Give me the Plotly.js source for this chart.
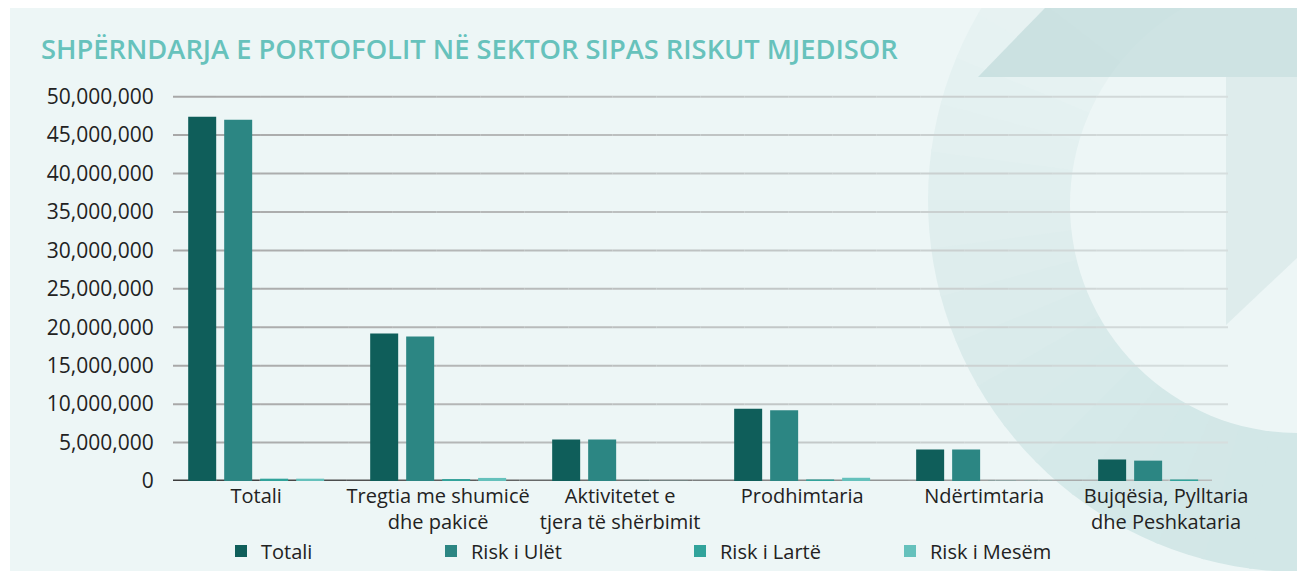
<!DOCTYPE html>
<html>
<head>
<meta charset="utf-8">
<script src="https://cdn.plot.ly/plotly-3.0.1.min.js"></script>
<style>html,body{margin:0;padding:0;background:#fff;overflow:hidden;}#chart{width:1297px;height:571px;}</style>
</head>
<body>
<div id="chart"></div>
<script>
// ---- data ----
var categories = [
  "Totali",
  "Tregtia me shumicë<br>dhe pakicë",
  "Aktivitetet e<br>tjera të shërbimit",
  "Prodhimtaria",
  "Ndërtimtaria",
  "Bujqësia, Pylltaria<br>dhe Peshkataria"
];
var seriesNames = ["Totali", "Risk i Ulët", "Risk i Lartë", "Risk i Mesëm"];
var totali     = [47400000, 19200000, 5400000, 9400000, 4100000, 2800000];
var riskUlet   = [47000000, 18800000, 5400000, 9200000, 4100000, 2650000];
var riskLarte  = [300000, 250000, 20000, 200000, 20000, 200000];
var riskMesem  = [300000, 400000, 20000, 420000, 20000, 0];
var yTicks     = [0, 5000000, 10000000, 15000000, 20000000, 25000000, 30000000, 35000000, 40000000, 45000000, 50000000];
var titleText = "SHPËRNDARJA E PORTOFOLIT NË SEKTOR SIPAS RISKUT MJEDISOR";

// ---- geometry helpers (background decoration only) ----
var W = 1297, H = 571;
var L = 173, R = 1228, T = 89, B = 481;
function px(x){ return (x - L) / (R - L); }
function py(y){ return (B - y) / (B - T); }
function circle(cx, cy, r, color){
  return {type:'circle', xref:'paper', yref:'paper', layer:'below',
    x0:px(cx-r), x1:px(cx+r), y0:py(cy+r), y1:py(cy-r),
    fillcolor:color, line:{width:0}};
}
function rect(x0,y0,x1,y1,color){
  return {type:'rect', xref:'paper', yref:'paper', layer:'below',
    x0:px(x0), x1:px(x1), y0:py(y1), y1:py(y0), fillcolor:color, line:{width:0}};
}
function poly(pts, color){
  var d = pts.map(function(p,i){ return (i? 'L':'M') + px(p[0]) + ',' + py(p[1]); }).join('') + 'Z';
  return {type:'path', xref:'paper', yref:'paper', layer:'below', path:d, fillcolor:color, line:{width:0}};
}
function mixArr(a, b, t){ return a.map(function(v,i){ return Math.round(v + (b[i]-v)*t); }); }
function mix(a, b, t){ return 'rgb(' + mixArr(a,b,t).join(',') + ')'; }

var bg = '#edf6f6';
var shapes = [ rect(10, 8, W, H, bg) ];
// shaded ring: wedges of the outer circle, darker toward bottom-right
(function(){
  var cx = 1300, cy = 200, r = 372, n = 48;
  var faint = [234,244,244], dark = [210,231,231];
  for (var k = 0; k < n; k++){
    var a0 = k/n*2*Math.PI, a1 = (k+1.05)/n*2*Math.PI, am = (a0+a1)/2;
    var d = 0.5 + 0.5*Math.cos(am - 95*Math.PI/180);
    d = Math.pow(d, 1.5);
    var pts = [[cx,cy]];
    for (var s = 0; s <= 3; s++){
      var a = a0 + (a1-a0)*s/3;
      pts.push([cx + r*Math.cos(a), cy + r*Math.sin(a)]);
    }
    shapes.push(poly(pts, mix(faint, dark, d)));
  }
})();
shapes.push(circle(1298, 205, 228, '#edf6f6'));
shapes.push(poly([[1045,8],[W,8],[W,77],[978,77]], 'rgba(180,212,212,0.55)'));
shapes.push(poly([[1226,77],[W,77],[W,258],[1226,325]], 'rgba(205,225,225,0.45)'));
shapes.push(rect(0, 0, W, 8, '#ffffff'));
shapes.push(rect(0, 0, 10, H, '#ffffff'));

// gridlines and baseline drawn as fading segments at the axis tick values
function fadingLine(yv, c0, c1, width, x1){
  var n = 24;
  for (var k = 0; k < n; k++){
    shapes.push({type:'line', xref:'paper', yref:'y', layer:'below',
      x0:k/n*x1, x1:(k+1)/n*x1, y0:yv, y1:yv,
      line:{color:mix(c0, c1, k/(n-1)), width:width}});
  }
}
yTicks.forEach(function(v){
  if (v === 0) return;
  fadingLine(v, [168,168,168], [214,222,222], 2, 1);
});
fadingLine(0, [60,60,60], [185,188,188], 3, (1212 - L)/(R - L));

var colors = ['#0f5e5a', '#2c8683', '#31a39b', '#65c1bc'];
var values = [totali, riskUlet, riskLarte, riskMesem];
var legendIds = ['legend', 'legend2', 'legend3', 'legend4'];
var traces = values.map(function(v, i){
  return {type:'bar', name:seriesNames[i], x:categories, y:v,
    marker:{color:colors[i]}, legend:legendIds[i], hoverinfo:'x+y'};
});

var font = '"Open Sans", Lato, sans-serif';
var legendX = [243, 453, 702, 912];
var layout = {
  width:W, height:H,
  margin:{l:L, r:W-R, t:T, b:H-B, pad:0, autoexpand:false},
  paper_bgcolor:'#ffffff', plot_bgcolor:'rgba(0,0,0,0)',
  font:{family:font, size:20, color:'#222222'},
  title:{text:titleText, x:41/W, xref:'container', xanchor:'left',
    y:1-49/H, yref:'container', yanchor:'middle',
    font:{family:font, size:27.3, color:'#67c2bc', weight:600}},
  barmode:'group', bargap:0.209, bargroupgap:0.222,
  xaxis:{type:'category', range:[-0.457, 5.340], showgrid:false, zeroline:false,
    showline:false, ticks:'', ticklen:0, ticklabelstandoff:1,
    tickfont:{family:font, size:20, color:'#222222'}, automargin:false, fixedrange:true},
  yaxis:{range:[0, 51000000], tickmode:'array', tickvals:yTicks, tickformat:',d',
    showgrid:false, zeroline:false,
    showline:false, ticks:'outside', ticklen:14, tickcolor:'rgba(0,0,0,0)',
    tickfont:{family:font, size:21, color:'#222222'}, automargin:false, fixedrange:true},
  shapes:shapes,
  showlegend:true
};
legendIds.forEach(function(id, i){
  layout[id] = {x:px(legendX[i] - 22), xref:'paper', xanchor:'left',
    y:py(551), yref:'paper', yanchor:'middle', orientation:'h',
    bgcolor:'rgba(0,0,0,0)', borderwidth:0,
    font:{family:font, size:20, color:'#222222'}};
});

Plotly.newPlot('chart', traces, layout, {displayModeBar:false, staticPlot:true});
</script>
</body>
</html>
